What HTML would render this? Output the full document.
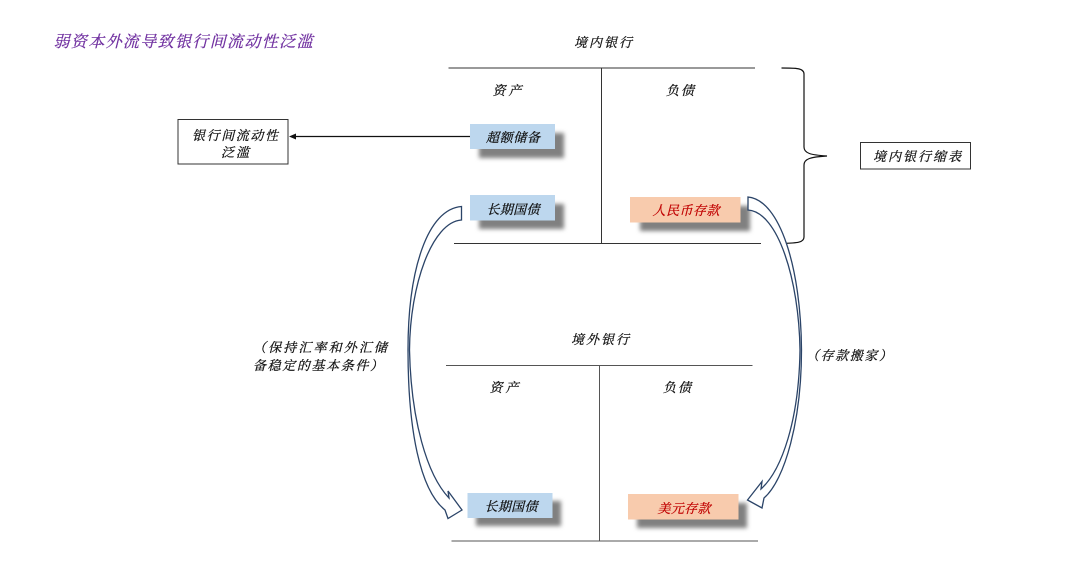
<!DOCTYPE html>
<html><head><meta charset="utf-8">
<style>
html,body{margin:0;padding:0;background:#fff;width:1080px;height:573px;overflow:hidden}
text{font-family:"Liberation Serif","Noto Serif CJK SC",serif;font-style:italic;fill:#111;stroke:#111;stroke-width:.25px;font-size:13px;text-anchor:middle}
</style></head><body>
<svg width="1080" height="573" viewBox="0 0 1080 573" xmlns="http://www.w3.org/2000/svg" style="display:block">
<defs><filter id="b" x="-20%" y="-30%" width="140%" height="160%"><feGaussianBlur stdDeviation="2"/></filter></defs>

<text x="183" y="47" style="font-size:16px;fill:#7030a0;stroke:#7030a0" textLength="259">弱资本外流导致银行间流动性泛滥</text>

<!-- T account lines -->
<g stroke="#333" stroke-width="1" fill="none">
<path d="M448.5 68H755M601.5 68V243.5M454 243.5H761"/>
<path d="M446 365.5H752.5M599.5 365.5V541M451.5 541H758" stroke="#555"/>
</g>

<text x="603" y="47" textLength="58">境内银行</text>
<text x="507" y="95" textLength="29">资产</text>
<text x="680" y="95" textLength="28">负债</text>
<text x="600" y="344" textLength="58">境外银行</text>
<text x="504" y="392" textLength="29">资产</text>
<text x="677" y="392" textLength="28">负债</text>

<!-- shadows -->
<g fill="#808080" filter="url(#b)">
<rect x="479" y="133" width="85" height="25"/>
<rect x="479" y="204" width="85" height="25"/>
<rect x="640" y="206" width="110" height="25"/>
<rect x="476" y="501" width="85" height="25"/>
<rect x="637" y="503" width="110" height="25"/>
</g>
<!-- boxes -->
<rect x="470" y="124" width="85" height="25" fill="#bdd7ee"/>
<rect x="470" y="195" width="85" height="25.500" fill="#bdd7ee"/>
<rect x="630" y="197" width="110.500" height="25.500" fill="#f8cbad"/>
<rect x="467.500" y="493" width="85" height="25" fill="#bdd7ee"/>
<rect x="628" y="494" width="110.500" height="25.500" fill="#f8cbad"/>
<text x="513" y="142" textLength="54">超额储备</text>
<text x="513" y="214" textLength="53">长期国债</text>
<text x="686" y="215" textLength="67" style="fill:#c00000;stroke:#c00000">人民币存款</text>
<text x="511" y="511" textLength="53">长期国债</text>
<text x="684" y="513" textLength="53" style="fill:#c00000;stroke:#c00000">美元存款</text>

<!-- left box -->
<rect x="178" y="119.500" width="110" height="44.500" fill="#fff" stroke="#333" stroke-width="1"/>
<text x="235" y="140" textLength="86">银行间流动性</text>
<text x="235" y="157" textLength="28">泛滥</text>
<path d="M470 136.500H296" stroke="#111" stroke-width="1.200"/>
<path d="M289 136.500L296 133.500V139.500Z" fill="#111"/>

<!-- brace -->
<path d="M781.500 68C796 68 804 68 804 74V147C804 153 810 155 827 156C810 157 804 159 804 165V237C804 243 796 243 781.500 243.500" fill="none" stroke="#111" stroke-width="1.200"/>

<rect x="860.500" y="142.500" width="110" height="26.500" fill="#fff" stroke="#333" stroke-width="1"/>
<text x="917" y="161" textLength="88">境内银行缩表</text>

<!-- labels -->
<text x="320" y="352" textLength="134">（保持汇率和外汇储</text>
<text x="318" y="370" textLength="130">备稳定的基本条件）</text>
<text x="849" y="360" textLength="86">（存款搬家）</text>

<!-- curved arrows -->
<g fill="#fff" stroke="#2b4468" stroke-width="1.300">
<path d="M461.500 206.500C428 209 408 268 408 350C408 430 420 490 445 510L448 518.500L462 510L448 491L449 498C427 475 411 420 409.500 350C410 285 432 222 461.500 220Z"/>
<path d="M748 197C780 200 801 268 801.500 350C801.500 420 785 480 764 498L762 508L747.500 500L762 481.500L761 489C782 470 799 420 800 350C799 280 778 212 748 210Z"/>
</g>
</svg>
</body></html>
